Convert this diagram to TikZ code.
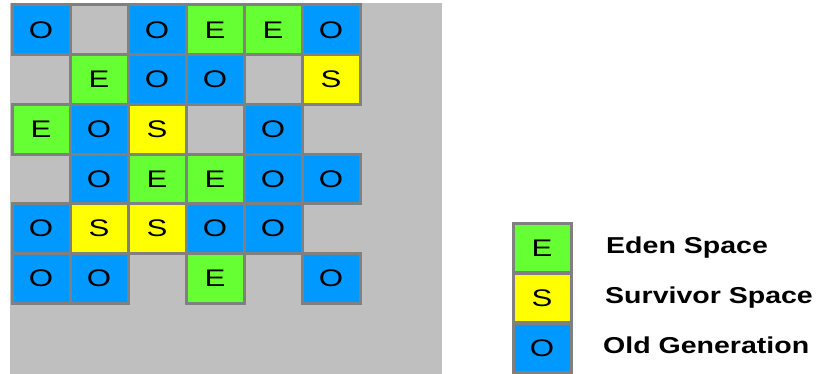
\documentclass[tikz,border=0pt]{standalone}
\usepackage{fontspec}
\setmainfont{Liberation Sans}
\definecolor{bggray}{HTML}{BFBFBF}
\definecolor{bordergray}{HTML}{808080}
\definecolor{oldblue}{HTML}{0099FF}
\definecolor{edengreen}{HTML}{66FF33}
\definecolor{survyellow}{HTML}{FFFF00}
\newcommand{\hstr}[1]{\scalebox{1.3}[1]{#1}}
\newcommand{\lstr}[1]{\scalebox{1.24}[1]{#1}}
\begin{document}
\begin{tikzpicture}[x=1pt,y=-1pt,
  cellbox/.style={draw=bordergray,line width=3pt,minimum width=58pt,minimum height=49.7pt,
    inner sep=0pt,outer sep=0pt,font=\fontsize{24}{24}\selectfont},
  ecell/.style={cellbox,fill=edengreen},
  scell/.style={cellbox,fill=survyellow},
  ocell/.style={cellbox,fill=oldblue},
  gcell/.style={cellbox,fill=bggray},
  legtext/.style={anchor=base west,inner sep=0pt,font=\fontsize{23}{23}\selectfont\bfseries}]
\useasboundingbox (0,0) rectangle (816,374);
\fill[white] (0,0) rectangle (816,374);
\fill[bggray] (10,3) rectangle (442,374);
% cell centers: x = 41 + 58c, y = 29.85 + 49.7r
% row 1
\node[ocell] (c11) at (41,29.85) {\hstr{O}};
\node[gcell] (c12) at (99,29.85) {};
\node[ocell] (c13) at (157,29.85) {\hstr{O}};
\node[ecell] (c14) at (215,29.85) {\hstr{E}};
\node[ecell] (c15) at (273,29.85) {\hstr{E}};
\node[ocell] (c16) at (331,29.85) {\hstr{O}};
% row 2
\node[ecell] (c22) at (99,79.55) {\hstr{E}};
\node[ocell] (c23) at (157,79.55) {\hstr{O}};
\node[ocell] (c24) at (215,79.55) {\hstr{O}};
\node[gcell] (c25) at (273,79.55) {};
\node[scell] (c26) at (331,79.55) {\hstr{S}};
% row 3
\node[ecell] (c31) at (41,129.25) {\hstr{E}};
\node[ocell] (c32) at (99,129.25) {\hstr{O}};
\node[scell] (c33) at (157,129.25) {\hstr{S}};
\node[gcell] (c34) at (215,129.25) {};
\node[ocell] (c35) at (273,129.25) {\hstr{O}};
% row 4
\node[ocell] (c42) at (99,178.95) {\hstr{O}};
\node[ecell] (c43) at (157,178.95) {\hstr{E}};
\node[ecell] (c44) at (215,178.95) {\hstr{E}};
\node[ocell] (c45) at (273,178.95) {\hstr{O}};
\node[ocell] (c46) at (331,178.95) {\hstr{O}};
% row 5
\node[ocell] (c51) at (41,228.65) {\hstr{O}};
\node[scell] (c52) at (99,228.65) {\hstr{S}};
\node[scell] (c53) at (157,228.65) {\hstr{S}};
\node[ocell] (c54) at (215,228.65) {\hstr{O}};
\node[ocell] (c55) at (273,228.65) {\hstr{O}};
% row 6
\node[ocell] (c61) at (41,278.35) {\hstr{O}};
\node[ocell] (c62) at (99,278.35) {\hstr{O}};
\node[ecell] (c64) at (215,278.35) {\hstr{E}};
\node[ocell] (c66) at (331,278.35) {\hstr{O}};
% legend
\node[ecell] (le) at (542,248) {\hstr{E}};
\node[scell] (ls) at (542,298) {\hstr{S}};
\node[ocell] (lo) at (542,348) {\hstr{O}};
\node[legtext] (te) at (606,253) {\lstr{Eden Space}};
\node[legtext] (ts) at (605,303) {\lstr{Survivor Space}};
\node[legtext] (to) at (603,353) {\lstr{Old Generation}};
\end{tikzpicture}
\end{document}
